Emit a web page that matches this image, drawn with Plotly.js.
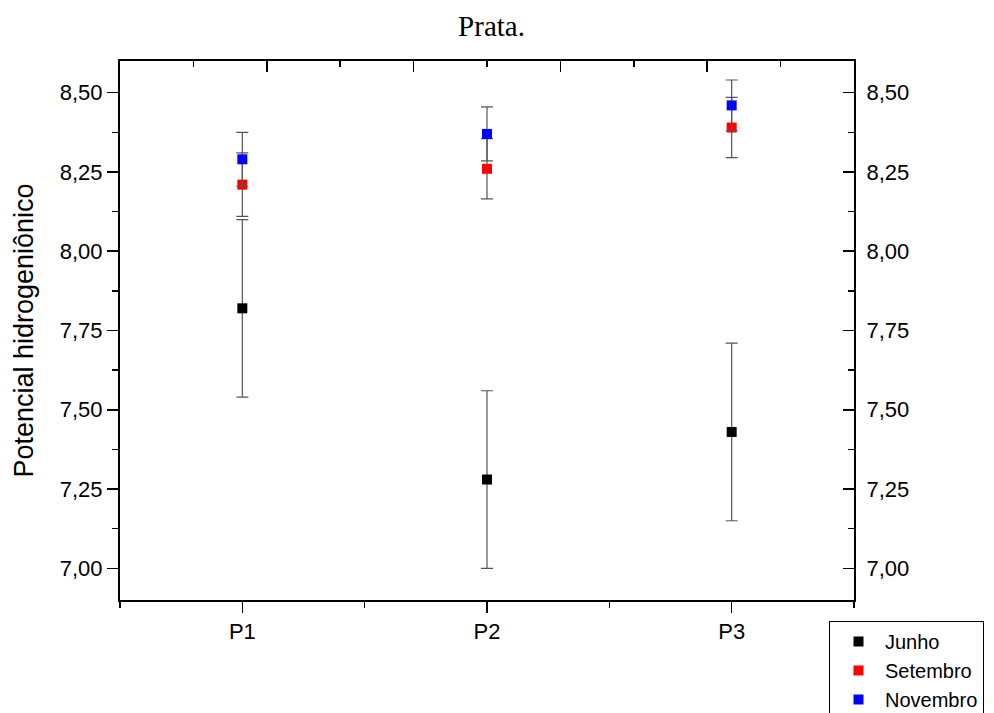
<!DOCTYPE html>
<html>
<head>
<meta charset="utf-8">
<script src="https://cdn.plot.ly/plotly-3.0.1.min.js"></script>
<style>html,body{margin:0;padding:0;background:#fff;}#chart{width:994px;height:713px;}</style>
</head>
<body>
<div id="chart"></div>
<script>
// Data
var categories = ['P1', 'P2', 'P3'];
var categoryPositions = [1, 2, 3];
var seriesNames = ['Junho', 'Setembro', 'Novembro'];
var junho = [7.82, 7.28, 7.43];
var junhoErr = [0.28, 0.28, 0.28];
var setembro = [8.21, 8.26, 8.39];
var setembroErr = [0.10, 0.095, 0.095];
var novembro = [8.29, 8.37, 8.46];
var novembroErr = [0.085, 0.085, 0.08];
var yTickVals = [7.00, 7.25, 7.50, 7.75, 8.00, 8.25, 8.50];

var colors = ['#000000', '#ff0000', '#0000ff'];
var values = [junho, setembro, novembro];
var errors = [junhoErr, setembroErr, novembroErr];

var FONT = 'Arial, "Liberation Sans", sans-serif';

var traces = seriesNames.map(function (name, i) {
  return {
    type: 'scatter',
    mode: 'markers',
    name: name,
    x: categoryPositions,
    y: values[i],
    error_y: {type: 'data', array: errors[i], visible: true, color: '#555555', thickness: 1.2, width: 6},
    marker: {symbol: 'square', size: 10, color: colors[i], line: {width: 0}},
    xaxis: 'x',
    yaxis: 'y'
  };
});

// empty helper traces so the top and right frame axes get drawn
traces.push({type: 'scatter', mode: 'markers', x: [], y: [], xaxis: 'x2', yaxis: 'y', showlegend: false, hoverinfo: 'skip'});
traces.push({type: 'scatter', mode: 'markers', x: [], y: [], xaxis: 'x', yaxis: 'y2', showlegend: false, hoverinfo: 'skip'});

var yRange = [6.9, 8.6];

var layout = {
  width: 994,
  height: 713,
  paper_bgcolor: '#ffffff',
  plot_bgcolor: '#ffffff',
  separators: ',.',
  margin: {l: 120, r: 140, t: 61, b: 113, autoexpand: false},
  font: {family: FONT, size: 22, color: '#000'},
  showlegend: true,
  title: {
    text: 'Prata.',
    font: {family: '"Times New Roman", "Liberation Serif", serif', size: 29, color: '#000'},
    xref: 'container', x: 0.4945, xanchor: 'center',
    yref: 'container', y: 1 - 26 / 713, yanchor: 'middle'
  },
  xaxis: {
    range: [0.5, 3.5],
    tickmode: 'array',
    tickvals: categoryPositions,
    ticktext: categories,
    ticks: 'outside', ticklen: 11, tickwidth: 1.5, tickcolor: '#000',
    minor: {tickmode: 'array', tickvals: [0.5, 1.5, 2.5, 3.5], ticks: 'outside', ticklen: 6, tickwidth: 1.5, tickcolor: '#000', showgrid: false},
    showline: true, linewidth: 2, linecolor: '#000',
    showgrid: false, zeroline: false,
    tickfont: {family: FONT, size: 22, color: '#000'},
    fixedrange: true
  },
  xaxis2: {
    overlaying: 'x', side: 'top', anchor: 'y',
    range: [0, 5], tickmode: 'linear', tick0: 0, dtick: 1,
    ticks: 'inside', ticklen: 11, tickwidth: 1.5, tickcolor: '#000',
    minor: {tickmode: 'linear', tick0: 0.5, dtick: 1, ticks: 'inside', ticklen: 6, tickwidth: 1.5, tickcolor: '#000', showgrid: false},
    showticklabels: false,
    showline: true, linewidth: 2, linecolor: '#000',
    showgrid: false, zeroline: false, fixedrange: true
  },
  yaxis: {
    range: yRange,
    title: {text: 'Potencial hidrogeniônico', font: {family: FONT, size: 27, color: '#000'}, standoff: 18},
    tickmode: 'array', tickvals: yTickVals, tickformat: '.2f',
    ticks: 'outside', ticklen: 11, tickwidth: 1.5, tickcolor: '#000',
    minor: {tickmode: 'linear', tick0: 6.875, dtick: 0.25, ticks: 'outside', ticklen: 6, tickwidth: 1.5, tickcolor: '#000', showgrid: false},
    showline: true, linewidth: 2, linecolor: '#000',
    showgrid: false, zeroline: false,
    tickfont: {family: FONT, size: 22, color: '#000'},
    fixedrange: true
  },
  yaxis2: {
    overlaying: 'y', side: 'right', anchor: 'x',
    range: yRange,
    tickmode: 'array', tickvals: yTickVals, tickformat: '.2f',
    ticks: 'inside', ticklen: 11, tickwidth: 1.5, tickcolor: '#000',
    minor: {tickmode: 'linear', tick0: 6.875, dtick: 0.25, ticks: 'inside', ticklen: 6, tickwidth: 1.5, tickcolor: '#000', showgrid: false},
    ticklabelstandoff: 6,
    showline: true, linewidth: 2, linecolor: '#000',
    showgrid: false, zeroline: false,
    tickfont: {family: FONT, size: 22, color: '#000'},
    fixedrange: true
  },
  legend: {
    x: (829 - 120) / 734, xanchor: 'left',
    y: (600 - 621) / 539.3, yanchor: 'top',
    bgcolor: '#ffffff', bordercolor: '#000', borderwidth: 1,
    font: {family: FONT, size: 20, color: '#000'},
    itemwidth: 43, indentation: 2,
    tracegroupgap: 0
  }
};

Plotly.newPlot('chart', traces, layout, {displayModeBar: false, staticPlot: true});
</script>
</body>
</html>
